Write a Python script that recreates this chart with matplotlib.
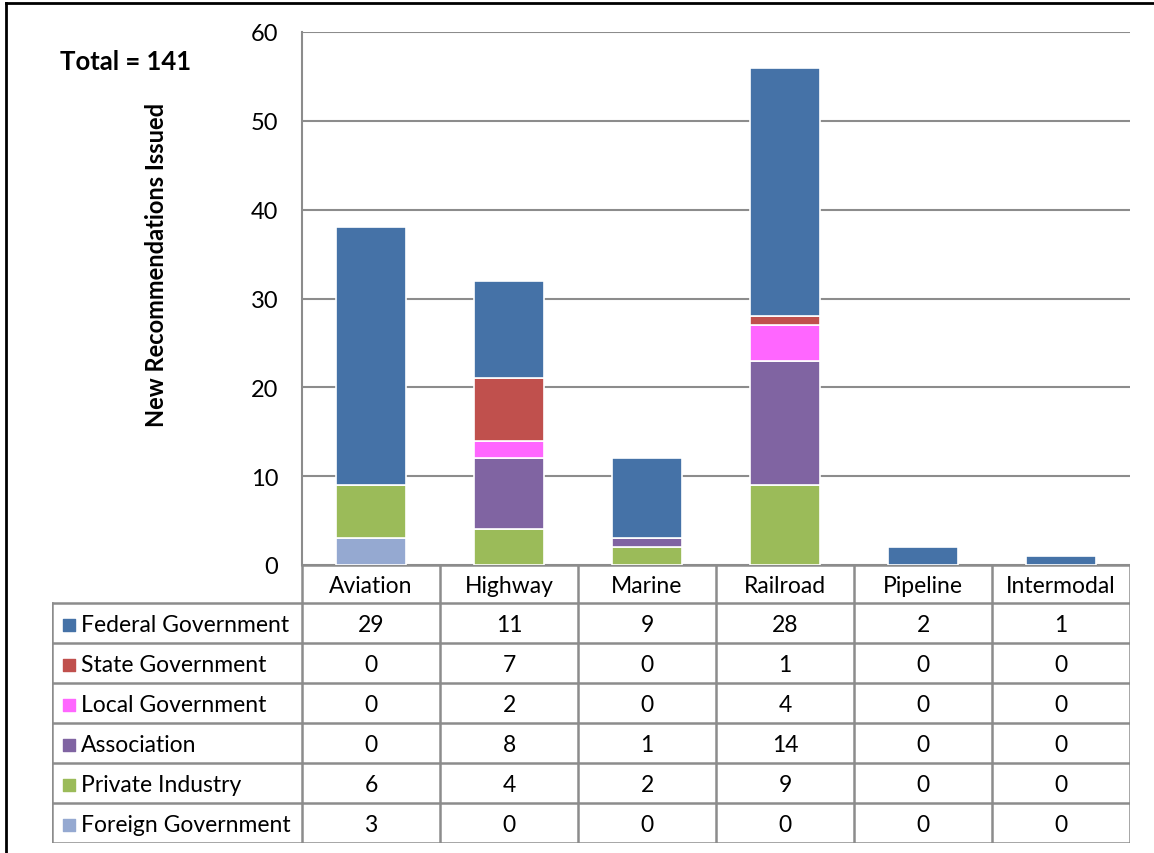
import matplotlib.pyplot as plt
import numpy as np

plt.rcParams['font.family'] = ['Lato', 'DejaVu Sans']

modes = ['Aviation', 'Highway', 'Marine', 'Railroad', 'Pipeline', 'Intermodal']
groups = ['Federal Government', 'State Government', 'Local Government',
          'Association', 'Private Industry', 'Foreign Government']
federal = [29, 11, 9, 28, 2, 1]
state = [0, 7, 0, 1, 0, 0]
local = [0, 2, 0, 4, 0, 0]
association = [0, 8, 1, 14, 0, 0]
private = [6, 4, 2, 9, 0, 0]
foreign = [3, 0, 0, 0, 0, 0]
colors = ['#4572A7', '#C0504D', '#FF66FF', '#8064A2', '#9BBB59', '#95A9D1']

series = [federal, state, local, association, private, foreign]
W, H = 1154, 854
fig = plt.figure(figsize=(W / 100, H / 100), dpi=100)

# bar chart area
ax = fig.add_axes([302 / W, (H - 566) / H, 828 / W, (566 - 33) / H])
x = np.arange(len(modes))
bottom = np.zeros(len(modes))
# stack from the bottom: foreign first
for vals, col in zip(series[::-1], colors[::-1]):
    ax.bar(x, vals, bottom=bottom, width=0.51, color=col,
           edgecolor='white', linewidth=1.2, zorder=3)
    bottom += np.array(vals)

ax.set_xlim(-0.5, 5.5)
ax.set_ylim(0, 60)
ax.set_yticks(range(0, 61, 10))
ax.yaxis.grid(True, color='#8c8c8c', linewidth=1.5, zorder=0)
ax.set_xticks([])
ax.tick_params(axis='y', length=0, pad=17, labelsize=17)
for s in ['top', 'right', 'bottom']:
    ax.spines[s].set_visible(False)
ax.spines['left'].set_color('#8c8c8c')
ax.spines['left'].set_linewidth(1.5)
ax.set_ylabel('New Recommendations Issued', fontsize=17, fontweight='bold')
ax.yaxis.set_label_coords(-0.162, 0.565)

# data table below
tab = fig.add_axes([52 / W, (H - 844) / H, 1078 / W, 278 / H])
left = -0.5 - 250 / 138
tab.set_xlim(left, 5.5)
tab.set_ylim(278, 0)
tab.axis('off')
lc = '#8c8c8c'
lw = 1.8
hdr = 38
rh = 40
# header row (categories only)
tab.plot([-0.5, 5.5], [0, 0], color=lc, lw=lw)
for i in range(len(modes) + 1):
    tab.plot([i - 0.5, i - 0.5], [0, 278], color=lc, lw=lw)
for j in range(len(groups) + 1):
    tab.plot([left, 5.5], [hdr + j * rh, hdr + j * rh], color=lc, lw=lw)
tab.plot([left, left], [hdr, 278], color=lc, lw=lw)
for i, m in enumerate(modes):
    tab.text(i, hdr / 2 + 1.5, m, ha='center', va='center', fontsize=16.5)
for j, (g, vals, col) in enumerate(zip(groups, series, colors)):
    yc = hdr + j * rh + rh / 2 + 1.5
    tab.scatter([left + 0.12], [yc], marker='s', s=75, color=col)
    tab.text(left + 0.21, yc, g, ha='left', va='center', fontsize=16.5)
    for i, v in enumerate(vals):
        tab.text(i, yc, str(v), ha='center', va='center', fontsize=16.5)

fig.text(60 / W, 1 - 62 / H, 'Total = 141', fontsize=18.5, fontweight='bold', va='center')

# outer frame lines (top and left)
fig.add_artist(plt.Line2D([6 / W, 1], [1 - 4 / H, 1 - 4 / H], color='black', lw=2))
fig.add_artist(plt.Line2D([6 / W, 6 / W], [0, 1 - 4 / H], color='black', lw=2))

fig.savefig('out.png', dpi=100)
